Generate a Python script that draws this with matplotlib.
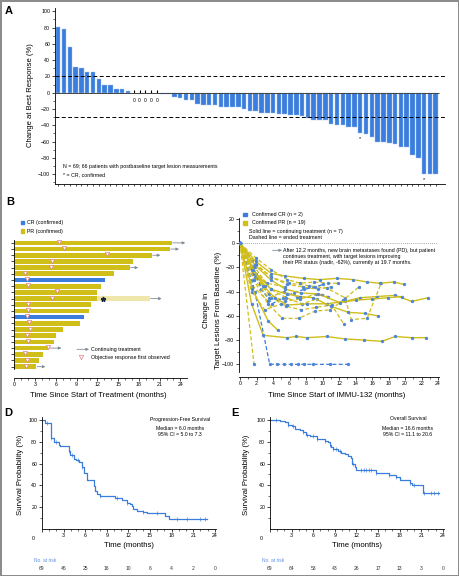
import numpy as np
import matplotlib
matplotlib.use('Agg')
import matplotlib.pyplot as plt
from matplotlib import transforms
from matplotlib.patches import Rectangle
from matplotlib.lines import Line2D

plt.rcParams['font.family'] = ['Liberation Sans', 'DejaVu Sans']
plt.rcParams['axes.linewidth'] = 0.6
for a in ('xtick', 'ytick'):
    plt.rcParams[a + '.major.size'] = 2
    plt.rcParams[a + '.minor.size'] = 1.2
    plt.rcParams[a + '.major.width'] = 0.5
    plt.rcParams[a + '.minor.width'] = 0.4
    plt.rcParams[a + '.major.pad'] = 1.5
    plt.rcParams[a + '.labelsize'] = 3.8

W, H = 459, 576
BLUE = '#3b7ddd'
GOLD = '#d0be19'
LIGHT_GOLD = '#efe7a9'
PINK = '#e07f88'
ARROW = '#7f8c99'
DOT = '#4f87d6'

# ---- A: best response per patient (%)
best_response = [81, 78, 56, 32, 30, 26, 25, 17, 10, 9, 5, 4, 2, 0, 0, 0, 0, 0,
                 -2, -2, -5, -6, -9, -9, -14, -15, -15, -15, -17, -17, -18, -18,
                 -20, -22, -22, -25, -25, -25, -26, -26, -27, -27, -28, -31, -33,
                 -33, -34, -38, -40, -40, -42, -42, -50, -51, -54, -60, -61, -62,
                 -63, -66, -66, -76, -80, -100, -100, -100]
cr_patients = [52, 63]

# ---- B: swimmer plot (months)
swim_months = [22.8, 22.5, 19.9, 17.1, 16.7, 14.4, 13.1, 12.6, 11.9, 11.9, 11.1,
               10.8, 10.1, 9.5, 7.0, 6.0, 5.7, 4.8, 4.2, 3.6, 3.2]
swim_resp = ['PR'] * 6 + ['CR'] + ['PR'] * 5 + ['CR'] + ['PR'] * 8
swim_onset = [6.4, 7.2, 13.4, 5.4, 5.3, 1.6, 1.8, 2.0, 6.1, 5.4, 2.0, 2.0, 1.8,
              2.1, 2.3, 1.8, 2.0, 4.9, 1.5, 1.8, 1.7]
arrow_to = [24.7, 23.8, 21.1, None, 17.9, None, None, None, None, 21.3, None,
            None, None, None, None, None, None, 6.8, None, None, 4.5]
pd_row = 9
pd_month = 12.8
pd_current = 19.6

# ---- C: spider plot, one series per patient (same order as B)
c_months = [
    [0, 1.4, 2.8, 4.2, 5.7, 8.1, 10.5, 12.7, 14.5, 16.6, 18.8, 20.8, 22.8],
    [0, 1.4, 2.8, 5.7, 6.8, 8.1, 10.5, 12.7, 15.0, 17.2, 18.8, 20.8, 22.5],
    [0, 1.9, 3.8, 5.5, 7.7, 9.7, 11.7, 13.7, 15.4, 17.0, 18.6, 19.9],
    [0, 1.9, 3.8, 5.9, 8.3, 10.5, 12.7, 13.5, 15.4, 17.1],
    [0, 1.9, 3.8, 5.7, 7.3, 8.9, 11.0, 13.1, 15.2, 16.7],
    [0, 1.6, 3.4, 5.1, 7.1, 9.1, 10.9, 12.5, 14.4],
    [0, 1.8, 3.6, 4.5, 5.3, 6.2, 7.0, 7.8, 8.9, 10.9, 13.1],
    [0, 1.8, 3.8, 5.6, 7.4, 9.2, 11.1, 12.6],
    [0, 1.9, 3.8, 5.7, 7.3, 9.0, 10.7, 11.9],
    [0, 1.8, 3.7, 5.5, 7.4, 9.5, 12.1, 14.0, 16.0, 17.9, 19.6],
    [0, 1.9, 3.8, 5.7, 7.6, 9.4, 11.0],
    [0, 1.6, 3.5, 5.4, 7.3, 9.2, 10.7],
    [0, 1.4, 2.6, 3.9, 5.2, 6.5, 7.8, 9.1, 10.1],
    [0, 1.8, 3.7, 5.6, 7.5, 9.3],
    [0, 1.7, 3.5, 5.3, 6.9],
    [0, 1.5, 3.3, 5.4],
    [0, 1.4, 3.0, 5.0],
    [0, 1.5, 3.4, 4.6],
    [0, 1.5, 3.4],
    [0, 1.7],
    [0, 1.6, 3.0],
]
c_values = [
    [0, -20, -35, -45, -51, -50, -50, -48, -45, -44, -43, -48, -45],
    [0, -50, -76, -78, -77, -78, -77, -79, -80, -81, -77, -78, -78],
    [0, -15, -25, -27, -29, -30, -29, -30, -32, -33, -32, -34],
    [0, -17, -28, -33, -35, -37, -45, -63, -62, -33],
    [0, -25, -38, -42, -44, -45, -52, -57, -58, -60],
    [0, -30, -50, -62, -62, -56, -55, -47, -36],
    [0, -40, -100, -100, -100, -100, -100, -100, -100, -100, -100],
    [0, -28, -45, -52, -55, -53, -51, -67],
    [0, -12, -22, -30, -33, -32, -33, -33],
    [0, -18, -30, -38, -41, -42, -49, -47, -46, -45, -44],
    [0, -18, -28, -34, -36, -38, -36],
    [0, -25, -42, -48, -46, -42, -44],
    [0, -15, -38, -50, -45, -41, -38, -36, -34],
    [0, -20, -38, -45, -50, -46],
    [0, -30, -45, -40, -44],
    [0, -22, -33, -36],
    [0, -40, -55, -50],
    [0, -38, -64, -72],
    [0, -35, -48],
    [0, -100],
    [0, -22, -35],
]
c_continuing = [arrow is not None for arrow in arrow_to]

# ---- D: progression-free survival (step times, survival %)
pfs_t = [0, 0.4, 1.2, 1.6, 1.7, 2.3, 2.5, 3.7, 3.9, 4.4, 4.7, 5.1, 5.6, 5.9, 6.2,
         7.2, 7.4, 7.6, 8.1, 10.2, 11.1, 11.8, 12.2, 12.5, 12.7, 13.2, 14.1,
         14.6, 17.1, 17.6, 22.9]
pfs_s = [100, 97, 84, 82, 80, 77, 76, 72, 68, 64, 63, 61, 57, 51, 45, 39, 35,
         32, 30, 28, 26, 24, 23, 21, 18, 16, 15, 14, 12, 9, 9]
pfs_censor = [0.7, 1.2, 2.0, 3.7, 4.2, 5.0, 5.6, 8.1, 10.4, 11.8, 14.1, 16.0,
              18.8, 20.1, 22.0, 22.7]
pfs_risk = [69, 46, 25, 16, 10, 6, 4, 2, 0]

# ---- E: overall survival
os_t = [0, 1.4, 2.1, 2.5, 3.0, 3.5, 4.1, 4.6, 5.0, 5.5, 6.5, 6.9, 7.6, 8.1, 8.3,
        8.5, 8.8, 9.4, 9.9, 10.4, 10.8, 11.3, 11.4, 11.8, 11.9, 14.7, 16.6, 17.5,
        18.0, 19.4, 19.7, 21.3, 23.5]
os_s = [100, 99, 98, 96, 95, 92, 91, 89, 86, 85, 83, 82.5, 81, 79.5, 77, 75, 73,
        72, 70, 68.5, 67, 65, 60, 57, 54.5, 51.5, 49, 47.5, 45, 42, 40, 33, 33]
os_censor = [0.9, 2.5, 3.2, 4.6, 5.2, 6.0, 6.5, 7.6, 8.3, 8.8, 9.2, 9.7, 11.5,
             12.7, 13.1, 13.4, 13.8, 14.1, 14.7, 16.6, 17.5, 19.4, 20.0, 21.4,
             22.4, 22.8, 23.3]
os_risk = [69, 64, 53, 43, 26, 17, 13, 3, 0]
risk_times = [0, 3, 6, 9, 12, 15, 18, 21, 24]


def fxy(px, py):
    return px / W, 1 - py / H


def ftext(px, py, s, **kw):
    kw.setdefault('fontsize', 3.8)
    kw.setdefault('va', 'center')
    fig.text(*fxy(px, py), s, **kw)


def clean(ax):
    ax.spines['top'].set_visible(False)
    ax.spines['right'].set_visible(False)


fig = plt.figure(figsize=(W / 100, H / 100), dpi=100)
fig.patch.set_edgecolor('#8c8c8c')
fig.patch.set_linewidth(2)

# ================= A =================
axA = fig.add_axes([55 / W, 1 - 184 / H, 390 / W, 176 / H])
vals = np.array(best_response)
xs = np.arange(len(vals))
nz = vals != 0
axA.bar(xs[nz], vals[nz], width=0.78, color=BLUE, edgecolor='#9fc1f2',
        linewidth=0.3, zorder=2)
axA.vlines(xs[~nz], 0, 3, color='black', lw=0.8, zorder=3)
for xz in xs[~nz]:
    axA.text(xz, -10, '0', ha='center', va='center', fontsize=3.6)
for i in cr_patients:
    axA.text(i, vals[i] - 6, '*', ha='center', va='center', fontsize=4)
axA.hlines(0, -0.5, len(vals) - 0.5, color='#444444', lw=0.7, zorder=3)
axA.axhline(20, color='black', lw=0.7, ls=(0, (4, 2.5)))
axA.axhline(-30, color='black', lw=0.7, ls=(0, (4, 2.5)))
axA.set_xlim(-0.55, 66.6)
axA.set_ylim(-112, 104)
axA.set_yticks(np.arange(-100, 101, 20))
axA.set_yticks(np.arange(-110, 101, 10), minor=True)
axA.set_xticks(xs)
axA.tick_params(axis='x', labelbottom=False, length=1.5)
clean(axA)
axA.text(0.9, -90, 'N = 69; 66 patients with postbaseline target lesion measurements',
         fontsize=3.8, va='center')
axA.text(0.9, -100.6, '* = CR, confirmed', fontsize=3.8, va='center')
ftext(30, 95, 'Change at Best Response (%)', rotation=90, ha='center', fontsize=5.5)
ftext(5, 11, 'A', fontsize=8, fontweight='bold')

# ================= B =================
axB = fig.add_axes([14.3 / W, 1 - 372 / H, 172.3 / W, 157 / H])
nrow = len(swim_months)
ys = np.arange(nrow)[::-1]
cols = [BLUE if r == 'CR' else GOLD for r in swim_resp]
axB.barh(ys, swim_months, height=0.75, color=cols, zorder=2)
axB.barh(ys[pd_row], pd_current - swim_months[pd_row], left=swim_months[pd_row],
         height=0.75, color=LIGHT_GOLD, zorder=2)
axB.plot(pd_month, ys[pd_row], marker='*', color='#1b2440', ms=3.5, zorder=4)
axB.scatter(swim_onset, ys + 0.15, marker='v', s=9, facecolor='white',
            edgecolor=PINK, linewidth=0.5, zorder=4)
for i, end in enumerate(arrow_to):
    if end is None:
        continue
    start = pd_current if i == pd_row else swim_months[i]
    axB.annotate('', xy=(end, ys[i]), xytext=(start + 0.1, ys[i]),
                 arrowprops=dict(arrowstyle='-|>', color=ARROW, lw=0.6,
                                 mutation_scale=4, shrinkA=0, shrinkB=0))
axB.set_xlim(0, 24.9)
axB.set_ylim(-0.86, 24.5)
axB.set_yticks(ys)
axB.tick_params(axis='y', labelleft=False, length=2)
axB.set_xticks(np.arange(0, 25, 3))
axB.set_xticks(np.arange(0, 25, 1), minor=True)
axB.spines['bottom'].set_position(('outward', 4))
axB.spines['left'].set_bounds(-0.45, 20.5)
clean(axB)
fig.add_artist(Rectangle(fxy(20.5, 224.2), 3.6 / W, 3.6 / H, color=BLUE,
                         transform=fig.transFigure))
fig.add_artist(Rectangle(fxy(20.5, 232.9), 3.6 / W, 3.6 / H, color=GOLD,
                         transform=fig.transFigure))
ftext(27, 222.3, 'CR (confirmed)')
ftext(27, 231, 'PR (confirmed)')
axB.annotate('', xy=fxy(89, 349.3), xytext=fxy(77, 349.3),
             xycoords='figure fraction', textcoords='figure fraction',
             arrowprops=dict(arrowstyle='-|>', color=ARROW, lw=0.6,
                             mutation_scale=4, shrinkA=0, shrinkB=0))
fig.add_artist(Line2D([fxy(81, 357)[0]], [fxy(81, 357)[1]], marker='v', ms=3.2,
                      mfc='white', mec=PINK, mew=0.5, transform=fig.transFigure))
ftext(91, 349.3, 'Continuing treatment')
ftext(91, 357.3, 'Objective response first observed')
ftext(98.7, 395.7, 'Time Since Start of Treatment (months)', ha='center', fontsize=5.6)
ftext(6, 202, 'B', fontsize=8, fontweight='bold')

# ================= C =================
axC = fig.add_axes([239.2 / W, 1 - 371.6 / H, 199.7 / W, 159.8 / H])
axC.hlines(0, 0, 24, colors='#8a8a8a', linestyles=(0, (1, 1.5)), lw=0.6)
for m, v, r, cont in zip(c_months, c_values, swim_resp, c_continuing):
    col = BLUE if r == 'CR' else GOLD
    axC.plot(m, v, color=col, lw=1.0 if cont else 0.9,
             ls='-' if cont else (0, (3.2, 1.8)), marker='o', ms=1.4,
             mfc=DOT, mec=DOT, zorder=3 if cont else 2)
axC.annotate('', xy=(10.3, -42.7), xytext=(9.0, -42.7),
             arrowprops=dict(arrowstyle='-|>', color=ARROW, lw=0.6,
                             mutation_scale=4, shrinkA=0, shrinkB=0))
axC.set_xlim(-0.1, 24.1)
axC.set_ylim(-106, 26)
axC.set_yticks(np.arange(-100, 21, 20))
axC.set_yticks(np.arange(-100, 21, 10), minor=True)
axC.set_xticks(np.arange(0, 25, 2))
axC.set_xticks(np.arange(0, 25, 1), minor=True)
axC.spines['bottom'].set_position(('outward', 3.6))
axC.spines['left'].set_bounds(-106, 21)
clean(axC)
fig.add_artist(Rectangle(fxy(243.5, 216.2), 3.6 / W, 3.6 / H, color=BLUE,
                         transform=fig.transFigure))
fig.add_artist(Rectangle(fxy(243.5, 224.6), 3.6 / W, 3.6 / H, color=GOLD,
                         transform=fig.transFigure))
ftext(251.7, 214.3, 'Confirmed CR (n = 2)')
ftext(251.7, 222.7, 'Confirmed PR (n = 19)')
ftext(249, 231.7, 'Solid line = continuing treatment (n = 7)')
ftext(249, 237.7, 'Dashed line = ended treatment')
axC.annotate('', xy=fxy(282, 250.3), xytext=fxy(272.5, 250.3),
             xycoords='figure fraction', textcoords='figure fraction',
             arrowprops=dict(arrowstyle='-|>', color=ARROW, lw=0.6,
                             mutation_scale=4, shrinkA=0, shrinkB=0))
ftext(283.3, 250.3, 'After 12.2 months, new brain metastases found (PD), but patient')
ftext(283.3, 256.3, 'continues treatment, with target lesions improving')
ftext(283.3, 262.3, 'their PR status (nadir, -62%), currently at 19.7 months.')
ftext(206.5, 310, 'Change in', rotation=90, ha='center', fontsize=5.6)
ftext(218, 310, 'Target Lesions From Baseline (%)', rotation=90, ha='center',
      fontsize=5.6)
ftext(337, 395.7, 'Time Since Start of IMMU-132 (months)', ha='center', fontsize=5.6)
ftext(195, 202.5, 'C', fontsize=8, fontweight='bold')


# ================= D / E =================
def km_panel(left_px, t, s, censor, risk, title, median, ci):
    ax = fig.add_axes([left_px / W, 1 - 528.5 / H, 174.2 / W, 111.5 / H])
    t = np.array(t)
    s = np.array(s)
    ax.step(t, s, where='post', color=BLUE, lw=0.9)
    c = np.array(censor)
    sc = s[np.searchsorted(t, c, side='right') - 1]
    ax.plot(c, sc, ls='none', marker='|', ms=2.6, mew=0.45, color=BLUE)
    ax.set_xlim(0, 24.2)
    ax.set_ylim(0, 103)
    ax.set_xticks(risk_times, [''] + [str(v) for v in risk_times[1:]])
    ax.set_xticks(np.arange(0, 25, 1), minor=True)
    ax.set_yticks([20, 40, 60, 80, 100])
    ax.set_yticks(np.arange(10, 101, 10), minor=True)
    clean(ax)
    ax.annotate('0', xy=(0, 0), xycoords=('data', 'axes fraction'),
                xytext=(-6, -7), textcoords='offset points', ha='center',
                va='center', fontsize=3.8)
    ax.set_xlabel('Time (months)', fontsize=5.6, labelpad=2.5)
    trans = transforms.blended_transform_factory(ax.transData, fig.transFigure)
    for tk, n in zip(risk_times, risk):
        ax.text(tk, 1 - 568.5 / H, str(n), transform=trans, ha='center',
                va='center', fontsize=3.6, color='#333333')
    ftext(left_px - 8, 560, 'No. at risk', color='#5b8fe0', fontsize=3.5)
    cx = left_px + 138
    ftext(cx, 419, title, ha='center', fontsize=3.7)
    ftext(cx, 429, median, ha='center', fontsize=3.7)
    ftext(cx, 435, ci, ha='center', fontsize=3.7)
    return ax


km_panel(42, pfs_t, pfs_s, pfs_censor, pfs_risk, 'Progression-Free Survival',
         'Median = 6.0 months', '95% CI = 5.0 to 7.3')
km_panel(270, os_t, os_s, os_censor, os_risk, 'Overall Survival',
         'Median = 16.6 months', '95% CI = 11.1 to 20.6')
ftext(20.7, 475, 'Survival Probability (%)', rotation=90, ha='center', fontsize=5.6)
ftext(246.7, 475, 'Survival Probability (%)', rotation=90, ha='center', fontsize=5.6)
ftext(4, 413, 'D', fontsize=8, fontweight='bold')
ftext(231.5, 413, 'E', fontsize=8, fontweight='bold')

fig.savefig('out.png', dpi=100)
